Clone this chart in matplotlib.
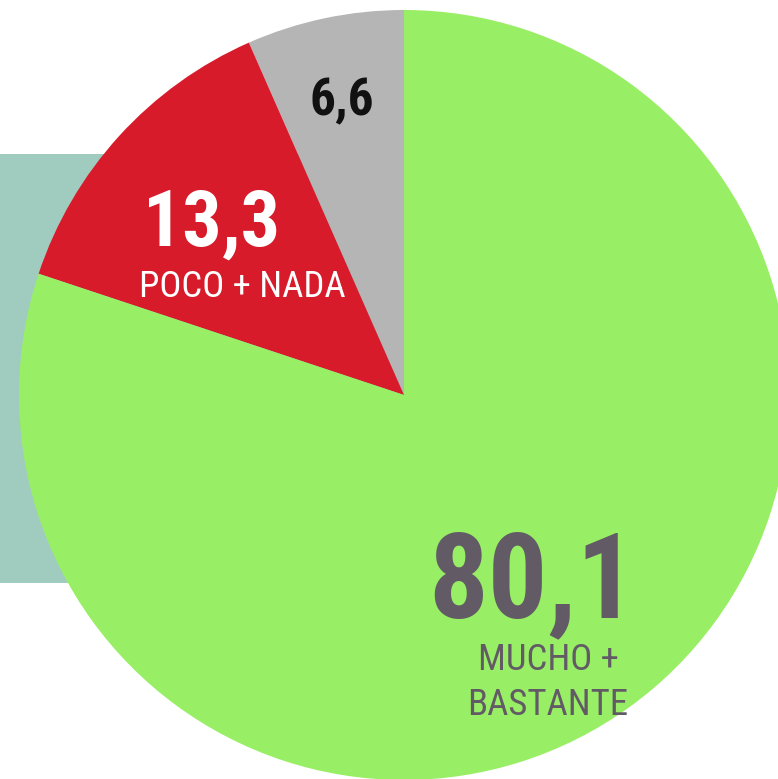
import matplotlib
matplotlib.use("Agg")
import matplotlib.pyplot as plt
from matplotlib.patches import Rectangle

FAM = ['Roboto Condensed', 'DejaVu Sans']

# Data
categories = ["NS/NC", "POCO + NADA", "MUCHO + BASTANTE"]
values = [6.6, 13.3, 80.1]
value_labels = ["6,6", "13,3", "80,1"]
colors = ["#b5b5b5", "#d81b2b", "#98ee64"]

W, H = 778, 779
fig = plt.figure(figsize=(W / 100, H / 100), dpi=100)
fig.patch.set_facecolor("white")
ax = fig.add_axes([0, 0, 1, 1])

def Y(y_img):
    return H - y_img

# teal background panel
ax.add_patch(Rectangle((0, Y(583)), 420, 583 - 154, facecolor="#a0ccc0",
                       edgecolor="none", zorder=0))

cx, cy, r = 404, Y(395), 385
ax.pie(values, colors=colors, startangle=90, counterclock=True,
       center=(cx, cy), radius=r, frame=True,
       wedgeprops=dict(linewidth=0, zorder=1))
ax.set_xlim(0, W)
ax.set_ylim(0, H)
ax.set_aspect("equal")
ax.axis("off")

grey_txt = "#625b66"
ax.text(342, Y(115), value_labels[0], color="#111111", fontsize=37,
        fontweight="bold", family=FAM, ha="center", va="baseline", zorder=3)
ax.text(212, Y(246), value_labels[1], color="white", fontsize=56,
        fontweight="bold", family=FAM, ha="center", va="baseline", zorder=3)
ax.text(242, Y(297), categories[1], color="white", fontsize=26.5,
        family=FAM, ha="center", va="baseline", zorder=3)
ax.text(532, Y(617), value_labels[2], color=grey_txt, fontsize=85,
        fontweight="bold", family=FAM, ha="center", va="baseline", zorder=3)
ax.text(548, Y(670), "MUCHO +", color=grey_txt, fontsize=26.5,
        family=FAM, ha="center", va="baseline", zorder=3)
ax.text(548, Y(715), "BASTANTE", color=grey_txt, fontsize=26.5,
        family=FAM, ha="center", va="baseline", zorder=3)

fig.savefig("out.png", dpi=100, facecolor="white")
